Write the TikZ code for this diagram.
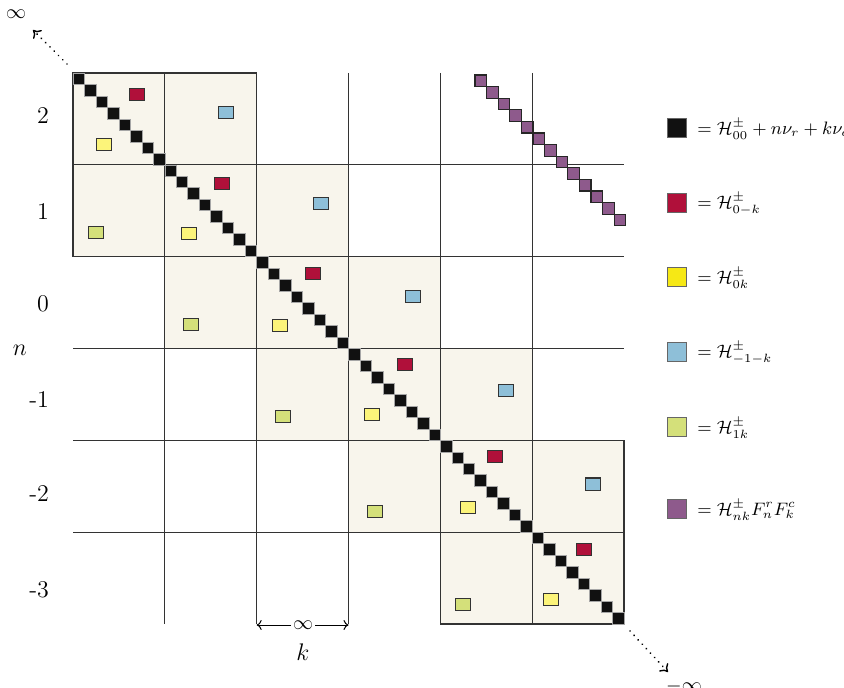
\documentclass[tikz,border=0pt]{standalone}
\usetikzlibrary{arrows.meta}
\definecolor{cream}{HTML}{F8F5EC}
\definecolor{gridc}{HTML}{333333}
\definecolor{diagc}{HTML}{111111}
\definecolor{redc}{HTML}{B0103A}
\definecolor{yelc}{HTML}{FCF47A}
\definecolor{yelleg}{HTML}{F6E815}
\definecolor{bluec}{HTML}{8EBFD8}
\definecolor{limec}{HTML}{D4E07A}
\definecolor{purc}{HTML}{8E5A8C}
\tikzset{
  gridline/.style={gridc, line width=0.65pt},
  diagsq/.style={fill=diagc, draw=gray!70, line width=0.3pt},
  pursq/.style={fill=purc, draw=black!85, line width=0.6pt},
  colsq/.style={draw=black!80, line width=0.5pt},
  legsq/.style={draw=black!60, line width=0.6pt, minimum size=9.5pt, inner sep=0pt},
  legtxt/.style={anchor=west, inner sep=0pt, font=\small},
  rowlab/.style={anchor=east, font=\large},
  dotarrow/.style={line width=1pt, dash pattern=on 0.01pt off 3pt, line cap=round, -{To[length=3.5pt,width=6pt,line width=0.7pt]}},
  karrow/.style={line width=0.5pt, -{To[length=2.5pt,width=5pt]}}
}
\newcommand\csq[3]{\filldraw[colsq, fill=#1] ({#2-7.5},{#3-6}) rectangle +(15,12);}
\begin{document}
\begin{tikzpicture}[x=0.5pt,y=-0.5pt]
\useasboundingbox (0,0) rectangle (844,688);
\def\g{91.8333}
% shaded 2x2 blocks
\foreach \d in {0,...,4}
  \fill[cream] ({73+\d*\g},{73+\d*\g}) rectangle ({73+(\d+2)*\g},{73+(\d+2)*\g});
% grid lines
\foreach \j in {1,...,5} {
  \draw[gridline] ({73+\j*\g},73) -- ({73+\j*\g},624);
  \draw[gridline] (73,{73+\j*\g}) -- (624,{73+\j*\g});
}
% outer borders of the staircase
\draw[gridline] (73,{73+2*\g}) -- (73,73) -- ({73+2*\g},73);
\draw[gridline] (624,{73+4*\g}) -- (624,624) -- ({73+4*\g},624);
% diagonal black squares
\foreach \i in {0,...,47}
  \filldraw[diagsq] ({73+\i*11.4792},{73+\i*11.4792}) rectangle +(11.4792,11.4792);
% purple squares
\foreach \i in {0,...,12}
  \filldraw[pursq] ({475+\i*11.6},{75+\i*11.6}) rectangle +(11.6,11.6);
% red
\csq{redc}{137}{95}
\csq{redc}{222}{184}
\csq{redc}{313}{274}
\csq{redc}{405}{365}
\csq{redc}{495}{457}
\csq{redc}{584}{549}
% yellow
\csq{yelc}{104}{145}
\csq{yelc}{189}{234}
\csq{yelc}{280}{326}
\csq{yelc}{372}{415}
\csq{yelc}{468}{507}
\csq{yelc}{551}{599}
% blue
\csq{bluec}{226}{113}
\csq{bluec}{321}{204}
\csq{bluec}{413}{297}
\csq{bluec}{506}{391}
\csq{bluec}{593}{484}
% lime
\csq{limec}{96}{233}
\csq{limec}{191}{325}
\csq{limec}{283}{417}
\csq{limec}{375}{511}
\csq{limec}{463}{604}
% row labels
\node[rowlab] (r2) at (56,116) {2};
\node[rowlab] (r1) at (56,212) {1};
\node[rowlab] (r0) at (56,304) {0};
\node[rowlab] (rm1) at (56,400) {-1};
\node[rowlab] (rm2) at (56,494) {-2};
\node[rowlab] (rm3) at (56,590) {-3};
\node[font=\large] (nlab) at (20,350) {$n$};
% k arrow
\node[inner sep=1pt] (kinf) at (303,625) {$\infty$};
\coordinate (kl) at ({73+2*\g},625);
\coordinate (kr) at ({73+3*\g},625);
\draw[karrow] (kinf.west) -- (kl);
\draw[karrow] (kinf.east) -- (kr);
\node[font=\large] (klab) at (303,652) {$k$};
% infinity arrows
\node[inner sep=0pt] (tinf) at (16,14) {$\infty$};
\coordinate (ts) at (67,64);
\coordinate (te) at (33,30);
\draw[dotarrow] (ts) -- (te);
\node[inner sep=0pt] (binf) at (684,686) {$-\infty$};
\coordinate (bs) at (630,631);
\coordinate (be) at (668,672);
\draw[dotarrow] (bs) -- (be);
% legend
\node[legsq, fill=diagc] (l1) at (677,128) {};
\node[legtxt] (t1) at (697,129) {$=\mathcal{H}^{\pm}_{00}+n\nu_r+k\nu_c$};
\node[legsq, fill=redc] (l2) at (677,203) {};
\node[legtxt] (t2) at (697,204) {$=\mathcal{H}^{\pm}_{0-k}$};
\node[legsq, fill=yelleg] (l3) at (677,277) {};
\node[legtxt] (t3) at (697,278) {$=\mathcal{H}^{\pm}_{0k}$};
\node[legsq, fill=bluec] (l4) at (677,352) {};
\node[legtxt] (t4) at (697,353) {$=\mathcal{H}^{\pm}_{-1-k}$};
\node[legsq, fill=limec] (l5) at (677,427) {};
\node[legtxt] (t5) at (697,428) {$=\mathcal{H}^{\pm}_{1k}$};
\node[legsq, fill=purc] (l6) at (677,509) {};
\node[legtxt] (t6) at (697,510) {$=\mathcal{H}^{\pm}_{nk}F^{r}_{n}F^{c}_{k}$};
\end{tikzpicture}
\end{document}
